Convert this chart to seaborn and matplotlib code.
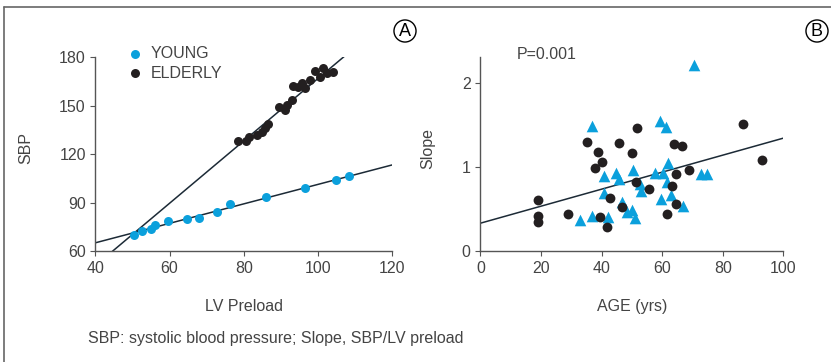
import matplotlib
matplotlib.use('Agg')
import matplotlib.pyplot as plt
from matplotlib.lines import Line2D
import numpy as np
import pandas as pd
import seaborn as sns

# panel A: SBP vs LV preload
young_preload = [50.4, 52.6, 54.9, 56.1, 59.7, 64.6, 67.9, 72.7, 76.3, 86.0, 96.5, 104.9, 108.3]
young_sbp = [70.1, 72.6, 73.4, 75.9, 78.4, 79.6, 80.2, 84.4, 89.1, 93.7, 98.8, 104.0, 106.5]
elderly_preload = [78.5, 80.6, 81.5, 83.5, 84.8, 85.7, 86.6, 89.4, 91.1, 91.8, 93.1, 93.4,
                   94.7, 95.6, 96.5, 97.9, 99.2, 100.6, 101.5, 102.4, 104.2]
elderly_sbp = [128.2, 128.2, 130.8, 131.9, 133.9, 136.0, 138.7, 149.0, 147.4, 150.5, 153.6, 162.2,
               161.4, 163.9, 160.8, 166.0, 171.5, 168.0, 173.2, 170.1, 171.1]
# fitted lines (intercept, slope)
fit_a = {'YOUNG': (41.0, 0.6025), 'ELDERLY': (-26.2, 1.93)}

# panel B: slope vs age
circle_age = [18.9, 18.9, 18.9, 29.0, 35.1, 38.9, 37.9, 40.1, 39.6, 41.8, 42.9, 45.9, 46.7,
              50.1, 51.7, 51.4, 55.8, 63.9, 66.7, 64.6, 68.8, 63.2, 64.5, 61.6, 86.6, 92.9]
circle_slope = [0.61, 0.42, 0.35, 0.44, 1.29, 1.175, 0.984, 1.056, 0.409, 0.29, 0.627, 1.282, 0.528,
                1.163, 1.464, 0.825, 0.734, 1.274, 1.242, 0.917, 0.956, 0.766, 0.56, 0.444, 1.504, 1.08]
tri_age = [37.0, 70.6, 59.3, 61.2, 61.8, 40.7, 44.7, 45.8, 50.5, 57.7, 60.4, 61.5, 52.7, 52.9,
           40.7, 46.8, 48.3, 50.2, 51.1, 42.0, 37.0, 32.9, 59.5, 62.8, 67.0, 72.7, 74.9]
tri_slope = [1.488, 2.206, 1.54, 1.47, 1.044, 0.885, 0.925, 0.857, 0.964, 0.925, 0.925, 0.825, 0.798, 0.714,
             0.694, 0.587, 0.46, 0.488, 0.397, 0.401, 0.417, 0.369, 0.615, 0.667, 0.54, 0.917, 0.917]
fit_b = (0.33, 0.0101)

blue = '#0ba0dc'
black = '#231f20'
linec = '#1c2a36'
grey = '#444444'
fs = 11.5

sns.set_style('ticks')
plt.rcParams['font.family'] = ['Liberation Sans Narrow', 'Liberation Sans', 'DejaVu Sans']
plt.rcParams.update({'axes.edgecolor': '#555555', 'axes.linewidth': 1.0,
                     'xtick.color': '#555555', 'ytick.color': '#555555',
                     'xtick.labelcolor': grey, 'ytick.labelcolor': grey,
                     'xtick.major.size': 3.5, 'ytick.major.size': 3.5,
                     'font.size': fs})

fig = plt.figure(figsize=(8.31, 3.62), dpi=100)
ax1 = fig.add_axes([0.1149, 0.3066, 0.3568, 0.5351])
ax2 = fig.add_axes([0.578, 0.3066, 0.3646, 0.5351])

# ---- A
ax1.set_xlim(40, 120)
ax1.set_ylim(60, 180)
xs = np.array([40, 120])
for name in ['ELDERLY', 'YOUNG']:
    b, m = fit_a[name]
    sns.lineplot(x=xs, y=b + m * xs, ax=ax1, color=linec, lw=1.1)
sns.scatterplot(x=young_preload, y=young_sbp, ax=ax1, color=blue, s=42, linewidth=0, label='YOUNG', zorder=3)
sns.scatterplot(x=elderly_preload, y=elderly_sbp, ax=ax1, color=black, s=42, linewidth=0, label='ELDERLY', zorder=3)
ax1.set_xticks([40, 60, 80, 100, 120])
ax1.set_yticks([60, 90, 120, 150, 180])
ax1.set_xlabel('LV Preload', color=grey)
ax1.set_ylabel('SBP', color=grey)
ax1.xaxis.set_label_coords(0.5, -0.25)
ax1.yaxis.set_label_coords(-0.21, 0.53)
leg = ax1.legend(loc='center left', bbox_to_anchor=(0.107, 0.97), frameon=False, handlelength=1.0,
                 handletextpad=0.45, labelspacing=0.3, borderaxespad=0, borderpad=0, fontsize=fs)
for t in leg.get_texts():
    t.set_color(grey)

# ---- B
ax2.set_xlim(0, 100)
ax2.set_ylim(0, 2.3)
xb = np.array([0, 100])
sns.lineplot(x=xb, y=fit_b[0] + fit_b[1] * xb, ax=ax2, color=linec, lw=1.1)
sns.scatterplot(x=tri_age, y=tri_slope, ax=ax2, color=blue, marker='^', s=70, linewidth=0, zorder=3)
sns.scatterplot(x=circle_age, y=circle_slope, ax=ax2, color=black, marker='o', s=50, linewidth=0, zorder=3)
ax2.set_xticks([0, 20, 40, 60, 80, 100])
ax2.set_yticks([0, 1, 2])
ax2.set_xlabel('AGE (yrs)', color=grey)
ax2.set_ylabel('Slope', color=grey)
ax2.xaxis.set_label_coords(0.5, -0.25)
ax2.yaxis.set_label_coords(-0.15, 0.53)
ax2.text(12.1, 2.33, 'P=0.001', color=grey, fontsize=fs, va='center', ha='left')

for ax in (ax1, ax2):
    sns.despine(ax=ax)

# panel letters
fig.text(405 / 831, 1 - 31 / 362, 'A', ha='center', va='center', fontsize=13, color='black',
         bbox=dict(boxstyle='circle,pad=0.14', fc='white', ec='black', lw=1.0))
fig.text(817 / 831, 1 - 31 / 362, 'B', ha='center', va='center', fontsize=13, color='black',
         bbox=dict(boxstyle='circle,pad=0.14', fc='white', ec='black', lw=1.0))

fig.text(88 / 831, 1 - 338 / 362, 'SBP: systolic blood pressure; Slope, SBP/LV preload',
         ha='left', va='center', color=grey, fontsize=fs)

# outer frame (top and left edges)
fig.add_artist(Line2D([4 / 831, 4 / 831], [0, 1 - 7 / 362], transform=fig.transFigure, color='#666666', lw=1.2))
fig.add_artist(Line2D([4 / 831, 1], [1 - 7 / 362, 1 - 7 / 362], transform=fig.transFigure, color='#666666', lw=1.2))

fig.savefig('out.png', dpi=100)
